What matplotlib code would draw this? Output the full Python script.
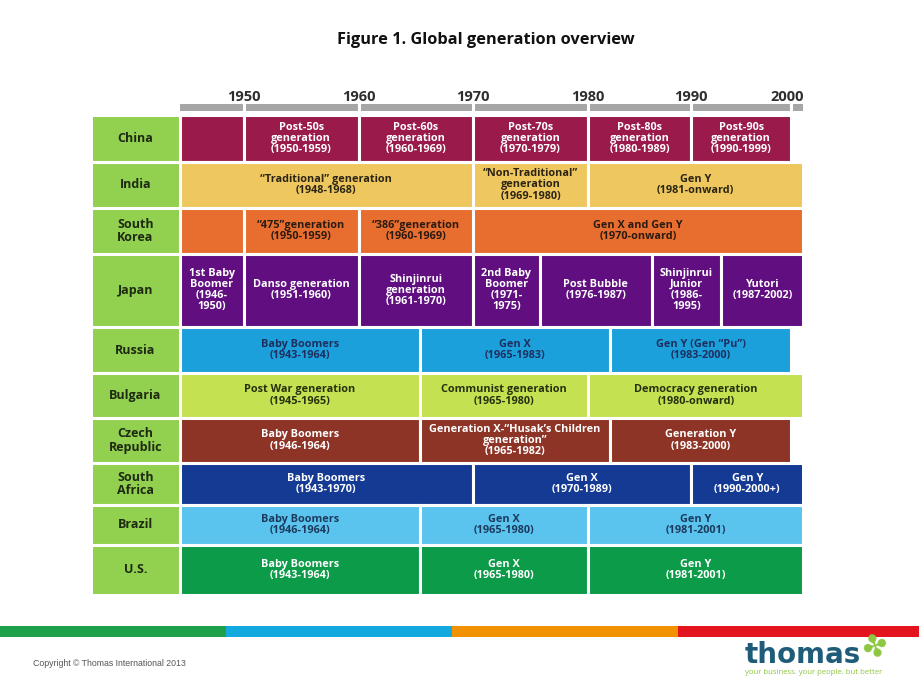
import matplotlib
matplotlib.use('Agg')
import numpy as np
import matplotlib.pyplot as plt
from matplotlib.patches import Rectangle

# ── Data ──────────────────────────────────────────────────────────────────────
countries = ['China', 'India', 'South\nKorea', 'Japan', 'Russia', 'Bulgaria',
             'Czech\nRepublic', 'South\nAfrica', 'Brazil', 'U.S.']

# None = runs off the edge of the timeline
segment_edges = [
    [None, 1950, 1960, 1970, 1980, 1990, 2000],
    [None, 1970, 1980, None],
    [None, 1950, 1960, 1970, None],
    [None, 1950, 1960, 1970, 1975.8, 1986.2, 1993.0, None],
    [None, 1965.4, 1982.1, 2000],
    [None, 1965.4, 1980, None],
    [None, 1965.4, 1982.1, 2000],
    [None, 1970, 1990, None],
    [None, 1965.4, 1980, None],
    [None, 1965.4, 1980, None],
]

segment_labels = [
    ['', 'Post-50s\ngeneration\n(1950-1959)', 'Post-60s\ngeneration\n(1960-1969)',
     'Post-70s\ngeneration\n(1970-1979)', 'Post-80s\ngeneration\n(1980-1989)',
     'Post-90s\ngeneration\n(1990-1999)'],
    ['\u201cTraditional\u201d generation\n(1948-1968)',
     '\u201cNon-Traditional\u201d\ngeneration\n(1969-1980)', 'Gen Y\n(1981-onward)'],
    ['', '\u201c475\u201dgeneration\n(1950-1959)', '\u201c386\u201dgeneration\n(1960-1969)',
     'Gen X and Gen Y\n(1970-onward)'],
    ['1st Baby\nBoomer\n(1946-\n1950)', 'Danso generation\n(1951-1960)',
     'Shinjinrui\ngeneration\n(1961-1970)', '2nd Baby\nBoomer\n(1971-\n1975)',
     'Post Bubble\n(1976-1987)', 'Shinjinrui\nJunior\n(1986-\n1995)', 'Yutori\n(1987-2002)'],
    ['Baby Boomers\n(1943-1964)', 'Gen X\n(1965-1983)', 'Gen Y (Gen \u201cPu\u201d)\n(1983-2000)'],
    ['Post War generation\n(1945-1965)', 'Communist generation\n(1965-1980)',
     'Democracy generation\n(1980-onward)'],
    ['Baby Boomers\n(1946-1964)',
     'Generation X-\u201cHusak\u2019s Children\ngeneration\u201d\n(1965-1982)',
     'Generation Y\n(1983-2000)'],
    ['Baby Boomers\n(1943-1970)', 'Gen X\n(1970-1989)', 'Gen Y\n(1990-2000+)'],
    ['Baby Boomers\n(1946-1964)', 'Gen X\n(1965-1980)', 'Gen Y\n(1981-2001)'],
    ['Baby Boomers\n(1943-1964)', 'Gen X\n(1965-1980)', 'Gen Y\n(1981-2001)'],
]

tick_years = [1950, 1960, 1970, 1980, 1990, 2000]

# ── Styles ────────────────────────────────────────────────────────────────────
row_colors = ['#9A1B4B', '#EEC85F', '#E86E30', '#600E80', '#1CA0DC', '#C3E150',
              '#8E3426', '#143A94', '#5AC4EE', '#0C9B48']
text_colors = ['white', '#2b2413', '#2b1a10', 'white', '#1c2f5e', '#26300f',
               'white', 'white', '#1c3a5e', 'white']
LABEL_BG = '#92D050'
GREY = '#A6A6A6'
FONT = 'Open Sans'

W, H = 920, 690
# row boundaries in pixels (layout only)
row_bounds = [114.5, 162, 208, 253.5, 327, 373, 418, 463, 505, 544.5, 594.8]

# the original timeline is not evenly spaced; piecewise scale years -> pixels
knot_years = [1930, 1950, 1960, 1970, 1980, 1990, 2000, 2020]
knot_px = [15, 244, 358.5, 473, 588, 691, 791.5, 992.5]

def fwd(x):
    return np.interp(x, knot_years, knot_px)

def inv(p):
    return np.interp(p, knot_px, knot_years)

def px_rect(x0, y0, x1, y1):
    return [x0 / W, 1 - y1 / H, (x1 - x0) / W, (y1 - y0) / H]

fig = plt.figure(figsize=(W / 100, H / 100), dpi=100, facecolor='white')

X0, X1 = 179.5, 803.5
Y0, Y1 = 85, 594.8
ax = fig.add_axes(px_rect(X0, Y0, X1, Y1))
ax.set_xscale('function', functions=(fwd, inv))
ax.set_xlim(inv(X0), inv(X1))
ax.set_ylim(Y1, Y0)
ax.axis('off')
xmin, xmax = ax.get_xlim()

# grey timeline bar with breaks at the decades
ax.barh(107.5, xmax - xmin, left=xmin, height=7, color=GREY, linewidth=0)
ax.vlines(tick_years, 103, 112, color='white', lw=2.2)
for yr in tick_years:
    if yr == tick_years[-1]:
        ax.text(xmax, 97, str(yr), ha='right', va='center', fontsize=10.5,
                fontweight='bold', color='#2e2e2e', family=FONT)
    else:
        ax.text(yr, 97, str(yr), ha='center', va='center', fontsize=10.5,
                fontweight='bold', color='#2e2e2e', family=FONT)

# label column
lab = fig.add_axes(px_rect(91.5, Y0, X0, Y1))
lab.set_xlim(0, 1)
lab.set_ylim(Y1, Y0)
lab.axis('off')

for i, name in enumerate(countries):
    top, bot = row_bounds[i], row_bounds[i + 1]
    lab.add_patch(Rectangle((0, top), 1, bot - top, facecolor=LABEL_BG,
                            edgecolor='white', linewidth=2.2))
    lab.text(0.5, (top + bot) / 2, name, ha='center', va='center',
             fontsize=9, fontweight='bold', color='#1e2a12', family=FONT,
             linespacing=1.05)

    edges = [xmin if e is None and k == 0 else xmax if e is None else e
             for k, e in enumerate(segment_edges[i])]
    for j, text in enumerate(segment_labels[i]):
        a, b = edges[j], edges[j + 1]
        ax.barh((top + bot) / 2, b - a, left=a, height=bot - top,
                color=row_colors[i], edgecolor='white', linewidth=2.2)
        if text:
            mid = inv((fwd(a) + fwd(b)) / 2)
            ax.text(mid, (top + bot) / 2, text, ha='center', va='center',
                    fontsize=7.8, fontweight='bold', color=text_colors[i],
                    family=FONT, linespacing=1.02)

# title
fig.text(486 / W, 1 - 40 / H, 'Figure 1. Global generation overview',
         ha='center', va='center', fontsize=11.8, fontweight='bold',
         color='#111111', family=FONT)

# footer stripe
stripe = [(0, 226, '#1EA04A'), (226, 452, '#12A9DF'),
          (452, 678, '#F39200'), (678, 920, '#E3141E')]
for x0, x1, c in stripe:
    fig.patches.append(Rectangle((x0 / W, 1 - 637 / H), (x1 - x0) / W, 11 / H,
                                 transform=fig.transFigure, facecolor=c,
                                 edgecolor='none'))

fig.text(33 / W, 1 - 663 / H, 'Copyright \u00a9 Thomas International 2013',
         ha='left', va='center', fontsize=6.3, color='#555555',
         family='Liberation Sans')

# logo
fig.text(745 / W, 1 - 663 / H, 'thomas', ha='left', va='baseline',
         fontsize=20, fontweight='bold', color='#1F5C7A', family='DejaVu Sans')
fig.text(876 / W, 1 - 647 / H, '\u2724', ha='center', va='center',
         fontsize=22, color='#8DC63F', rotation=20, family='DejaVu Sans')
fig.text(745 / W, 1 - 673 / H, 'your business. your people. but better',
         ha='left', va='center', fontsize=5.6, color='#8DC63F', family='Open Sans')

fig.savefig('out.png', dpi=100, facecolor='white')
